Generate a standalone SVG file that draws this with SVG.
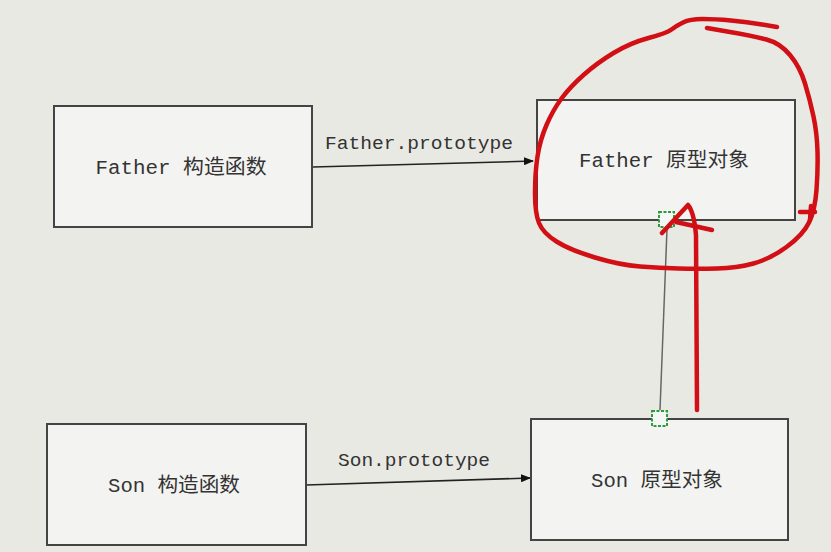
<svg xmlns="http://www.w3.org/2000/svg" width="831" height="552" viewBox="0 0 831 552">
<style>
.box{fill:#f3f3f2;stroke:#444;stroke-width:2}
.t{font-family:"Liberation Mono","Noto Sans CJK SC",monospace;font-size:20px;fill:#333;text-anchor:middle}
.lbl{font-family:"Liberation Mono","Noto Sans CJK SC",monospace;font-size:19px;fill:#333}
.con{stroke:#222;stroke-width:1.5;fill:none}
.gray{stroke:#666;stroke-width:1.5;fill:none}
.sel{fill:#f4f8f4;stroke:#2f9a3a;stroke-width:2;stroke-dasharray:3 1.5}
.red{stroke:#d20f14;stroke-width:4.5;fill:none;stroke-linecap:round;stroke-linejoin:round}
</style>
<defs>
<marker id="ah" markerWidth="10" markerHeight="8" refX="9" refY="4" orient="auto" markerUnits="userSpaceOnUse">
<path d="M0,0 L10,4 L0,8 Z" fill="#111"/>
</marker>
</defs>
<rect width="831" height="552" fill="#e9e9e4"/>
<g id="connectors">
<path class="con" d="M313,167 L533,161" marker-end="url(#ah)"/>
<text class="lbl" x="325" y="149" textLength="188" lengthAdjust="spacingAndGlyphs">Father.prototype</text>
<path class="con" d="M306,485 L530,478" marker-end="url(#ah)"/>
<text class="lbl" x="338" y="466" textLength="152" lengthAdjust="spacingAndGlyphs">Son.prototype</text>
<path class="gray" d="M667,229 L660,410"/>
</g>
<g id="father-ctor">
<rect class="box" x="54" y="106" width="258" height="121"/>
<text class="t" x="181" y="174" textLength="171" lengthAdjust="spacingAndGlyphs">Father 构造函数</text>
</g>
<g id="father-proto">
<rect class="box" x="537" y="100" width="258" height="120"/>
<text class="t" x="664" y="167" textLength="170" lengthAdjust="spacingAndGlyphs">Father 原型对象</text>
</g>
<g id="son-ctor">
<rect class="box" x="47" y="424" width="259" height="121"/>
<text class="t" x="174" y="492" textLength="132" lengthAdjust="spacingAndGlyphs">Son 构造函数</text>
</g>
<g id="son-proto">
<rect class="box" x="531" y="419" width="257" height="121"/>
<text class="t" x="657" y="487" textLength="132" lengthAdjust="spacingAndGlyphs">Son 原型对象</text>
</g>
<g id="handles">
<rect class="sel" x="659" y="212" width="15" height="15"/>
<rect class="sel" x="652" y="411" width="15" height="15"/>
</g>
<g id="annotation">
<path class="red" d="M777,27 L762,24.5 Q747,22 731,20.5 Q715,19 702.5,19 Q690,19 683,22.5 Q676,26 671.5,29.5 Q667,33 648.5,38 Q630,43 613.5,53 Q597,63 583.5,75 Q570,87 561.5,98.5 Q553,110 546.5,125 Q540,140 537.5,156.5 Q535,173 535,193 Q535,213 539,223 Q543,233 556.5,241.5 Q570,250 595,257.5 Q620,265 640,266.5 Q660,268 678.5,268.5 Q697,269 717,268.5 Q737,268 753.5,263.5 Q770,259 786.5,247 Q803,235 809,222.5 Q815,210 816.5,190 Q818,170 817.5,151.5 Q817,133 813.5,116.5 Q810,100 805,83.5 Q800,67 790,55 Q780,43 766.5,39.5 Q753,36 730,32 L707,28"/>
<path class="red" d="M662,233 L688,205 Q694,212 696,235 L697,410"/>
<path class="red" d="M676,222 L712,230"/>
<path class="red" stroke-width="3" d="M800,212 L815,212 M811,206 L810,220"/>
</g>
</svg>
